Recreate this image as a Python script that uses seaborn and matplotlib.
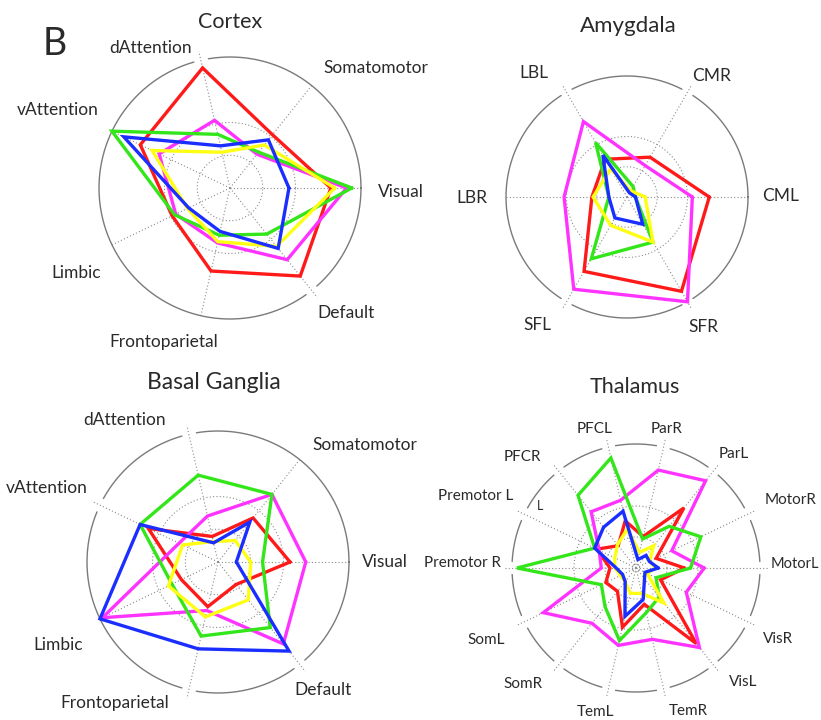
import numpy as np
import pandas as pd
import matplotlib
matplotlib.use("Agg")
import matplotlib.pyplot as plt
import seaborn as sns

sns.set_style("white")
plt.rcParams["font.family"] = ["Lato", "DejaVu Sans"]

W, H = 821, 720
TEXT = "#2a2a2a"

SERIES = ["red", "magenta", "green", "yellow", "blue"]
PALETTE = {"red": "#ff1a1a", "magenta": "#ff33ff", "green": "#33e619",
           "yellow": "#ffff14", "blue": "#1a2eff"}

# ---- Cortex (7 networks, counter-clockwise from Visual) ----
cortex_axes = ["Visual", "Somatomotor", "dAttention", "vAttention",
               "Limbic", "Frontoparietal", "Default"]
cortex_red = [0.77, 0.52, 0.94, 0.76, 0.49, 0.65, 0.86]
cortex_magenta = [0.89, 0.33, 0.53, 0.60, 0.46, 0.43, 0.70]
cortex_green = [0.93, 0.35, 0.42, 1.00, 0.47, 0.37, 0.45]
cortex_yellow = [0.80, 0.42, 0.28, 0.66, 0.36, 0.42, 0.57]
cortex_blue = [0.45, 0.47, 0.33, 0.90, 0.35, 0.34, 0.59]

# ---- Amygdala (6 nuclei) ----
amyg_axes = ["CML", "CMR", "LBL", "LBR", "SFL", "SFR"]
amyg_red = [0.68, 0.38, 0.36, 0.29, 0.71, 0.90]
amyg_magenta = [0.54, 0.30, 0.72, 0.52, 0.88, 1.00]
amyg_green = [0.07, 0.10, 0.52, 0.15, 0.59, 0.43]
amyg_yellow = [0.15, 0.06, 0.27, 0.28, 0.27, 0.43]
amyg_blue = [0.07, 0.04, 0.40, 0.15, 0.20, 0.26]

# ---- Basal ganglia (same 7 networks) ----
bg_axes = cortex_axes
bg_red = [0.55, 0.43, 0.20, 0.59, 0.31, 0.35, 0.22]
bg_magenta = [0.67, 0.66, 0.36, 0.33, 0.98, 0.38, 0.80]
bg_green = [0.34, 0.66, 0.68, 0.66, 0.39, 0.58, 0.64]
bg_yellow = [0.25, 0.21, 0.16, 0.30, 0.42, 0.43, 0.37]
bg_blue = [0.14, 0.39, 0.15, 0.66, 1.00, 0.68, 0.87]

# ---- Thalamus (14 cortical projection zones) ----
thal_axes = ["MotorL", "MotorR", "ParL", "ParR", "PFCL", "PFCR", "Premotor L",
             "Premotor R", "SomL", "SomR", "TemL", "TemR", "VisL", "VisR"]
thal_red = [0.39, 0.18, 0.62, 0.26, 0.39, 0.23, 0.35, 0.21, 0.27, 0.24, 0.49, 0.30, 0.78, 0.22]
thal_magenta = [0.55, 0.32, 0.90, 0.81, 0.56, 0.58, 0.33, 0.28, 0.83, 0.57, 0.64, 0.59, 0.82, 0.45]
thal_green = [0.44, 0.58, 0.43, 0.24, 0.91, 0.75, 0.37, 0.96, 0.31, 0.40, 0.60, 0.37, 0.30, 0.18]
thal_yellow = [0.16, 0.12, 0.23, 0.13, 0.32, 0.24, 0.19, 0.17, 0.14, 0.14, 0.21, 0.21, 0.36, 0.10]
thal_blue = [0.18, 0.12, 0.13, 0.07, 0.47, 0.42, 0.37, 0.16, 0.12, 0.14, 0.40, 0.26, 0.11, 0.08]

RMAX = 1.1


def to_frame(values):
    rows = []
    for name in SERIES:
        vals = values[name]
        n = len(vals)
        for i in range(n + 1):
            rows.append({"series": name, "theta": 2 * np.pi * i / n, "r": vals[i % n]})
    return pd.DataFrame(rows)


def radar(fig, cx, cy, R, n, values, gaps, rings):
    rad = R * RMAX
    ax = fig.add_axes([(cx - rad) / W, 1 - (cy + rad) / H, 2 * rad / W, 2 * rad / H],
                      projection="polar")
    ax.set_axis_off()
    grid_kw = dict(color="#8c8c8c", lw=0.8, ls=(0, (1, 2)), zorder=0.5)
    t = np.linspace(0, 2 * np.pi, 721)
    for rr in rings:
        ax.plot(t, np.full_like(t, rr), **grid_kw)
    angles = 2 * np.pi * np.arange(n) / n
    for k, a in enumerate(angles):
        ax.plot([a, a], [0, 1.07 if k in gaps else 1.0], **grid_kw)
    # outer circle, interrupted where some spokes pass through
    circ = np.ones_like(t)
    for k in gaps:
        d = np.angle(np.exp(1j * (t - angles[k])))
        circ[np.abs(d) < 0.05] = np.nan
    ax.plot(t, circ, color="#7a7a7a", lw=1.0, zorder=0.6)

    sns.lineplot(data=to_frame(values), x="theta", y="r", hue="series",
                 hue_order=SERIES, palette=PALETTE, sort=False, estimator=None,
                 legend=False, linewidth=2.4, ax=ax, solid_joinstyle="miter")
    ax.set_ylim(0, RMAX)
    ax.set_axis_off()
    return ax


def label(x, y, s, size=12.5, ha="center"):
    fig.text(x / W, 1 - y / H, s, ha=ha, va="baseline", fontsize=size, color=TEXT)


fig = plt.figure(figsize=(W / 100, H / 100), dpi=100)

radar(fig, 230, 188, 131, 7,
      dict(red=cortex_red, magenta=cortex_magenta, green=cortex_green,
           yellow=cortex_yellow, blue=cortex_blue),
      gaps=[2, 6], rings=[0.25, 0.5])
radar(fig, 627, 197, 121, 6,
      dict(red=amyg_red, magenta=amyg_magenta, green=amyg_green,
           yellow=amyg_yellow, blue=amyg_blue),
      gaps=[1, 2, 4, 5], rings=[0.25, 0.5])
radar(fig, 218, 562, 131, 7,
      dict(red=bg_red, magenta=bg_magenta, green=bg_green,
           yellow=bg_yellow, blue=bg_blue),
      gaps=[2, 3, 5, 6], rings=[0.25, 0.5])
radar(fig, 636, 568, 124, 14,
      dict(red=thal_red, magenta=thal_magenta, green=thal_green,
           yellow=thal_yellow, blue=thal_blue),
      gaps=list(range(14)), rings=[0.03, 0.25, 0.5])

# panel letter and titles
label(55, 55, "B", size=27)
label(230, 28, "Cortex", size=15.5)
label(628, 32, "Amygdala", size=16)
label(214, 389, "Basal Ganglia", size=16.5)
label(635, 393, "Thalamus", size=15.5)

# cortex labels
label(151, 53, "dAttention")
label(323, 73, "Somatomotor", ha="left")
label(58, 115, "vAttention")
label(378, 197, "Visual", ha="left")
label(76, 278, "Limbic")
label(346, 318, "Default")
label(164, 347, "Frontoparietal")

# amygdala labels
label(534, 78, "LBL")
label(712, 81, "CMR")
label(472, 203, "LBR")
label(781, 201, "CML")
label(537, 330, "SFL")
label(703, 332, "SFR")

# basal ganglia labels
label(125, 425, "dAttention")
label(365, 450, "Somatomotor")
label(47, 493, "vAttention")
label(385, 567, "Visual")
label(58, 650, "Limbic")
label(323, 695, "Default")
label(115, 708, "Frontoparietal")

# thalamus labels
TL = 11
label(595, 433, "PFCL", TL)
label(667, 433, "ParR", TL)
label(734, 458, "ParL", TL)
label(791, 504, "MotorR", TL)
label(771, 568, "MotorL", 10.5, ha="left")
label(778, 643, "VisR", TL)
label(743, 686, "VisL", TL)
label(688, 715, "TemR", TL)
label(595, 716, "TemL", TL)
label(523, 688, "SomR", TL)
label(486, 644, "SomL", TL)
label(462, 567, "Premotor R", TL)
label(476, 500, "Premotor L", TL)
label(522, 461, "PFCR", TL)
label(540, 510, "L", 9)

fig.savefig("out.png", dpi=100)
